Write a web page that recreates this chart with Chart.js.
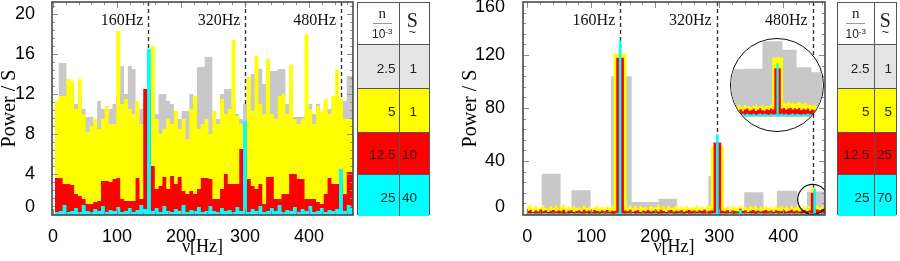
<!DOCTYPE html>
<html><head><meta charset="utf-8">
<script src="https://cdn.jsdelivr.net/npm/chart.js@4.4.1/dist/chart.umd.min.js"></script>
<style>
html,body{margin:0;padding:0;background:#fff;}
body{width:900px;height:261px;overflow:hidden;position:relative;}
canvas{position:absolute;display:block;}
#inset{position:absolute;left:730px;top:38px;width:94px;height:94px;box-sizing:border-box;border:1.5px solid #111;border-radius:50%;overflow:hidden;background:#fff;}
#inset canvas{left:0;top:0;}
.tbl{position:absolute;top:2px;height:213px;box-sizing:border-box;border:1.5px solid #555;font-family:"Liberation Sans",Arial,sans-serif;color:#222;}
.row{position:absolute;left:0;right:0;display:flex;box-sizing:border-box;}
.cell{box-sizing:border-box;height:100%;display:flex;align-items:center;justify-content:flex-end;font-size:13.5px;padding-top:3px;}
.hdr{flex-direction:column;justify-content:center;align-items:center;}
</style></head><body>
<canvas id="c1" width="360" height="261" style="left:0;top:0"></canvas>
<canvas id="c2" width="400" height="261" style="left:440px;top:0"></canvas>
<div id="inset"><canvas id="c3" width="91" height="91"></canvas></div>
<div id="t1" class="tbl"></div>
<div id="t2" class="tbl"></div>
<script>
// ---------------- DATA ----------------
// Left panel: bins of 6 Hz starting at 3 Hz
const leftStart = 3, leftBin = 6;
const leftGray = [10,15.1,15.1,13.0,12.5,11.0,12.0,10.5,9.7,9.7,
  9.2,11.3,10.5,10.0,10.5,11.0,12.0,14.8,12.0,14.8,
  14.5,10.0,10.5,11.0,12.0,12.0,10.0,12.0,12.0,11.3,
  11.0,9.5,9.5,10.3,10.3,12.0,11.0,14.7,14.7,15.7,
  15.7,9.5,9.5,12.0,12.5,12.5,11.0,10.0,9.5,11.0,
  12.0,14.0,14.5,14.5,13.0,12.0,14.3,14.3,14.5,14.5,
  11.0,12.0,9.7,9.7,9.7,10.0,11.0,10.0,11.0,10.0,
  11.0,10.5,11.0,11.0,11.3,11.3,13.8,13.8];
const leftYellow = [11.3,11.8,11.8,13.5,13.3,10.5,13.5,10.0,8.2,8.8,
  9.5,8.5,9.5,10.8,9.0,9.0,18.3,11.0,11.5,10.5,
  10.0,11.3,9.0,11.5,12.5,16.8,9.5,8.0,8.5,9.5,
  9.0,10.3,8.5,9.5,7.5,10.5,11.8,8.5,9.0,9.5,
  8.0,10.3,9.0,11.5,10.0,10.5,17.4,9.8,9.0,9.0,
  13.7,10.3,15.8,11.0,10.0,15.5,10.0,9.5,11.8,12.0,
  10.0,14.9,9.5,9.0,9.5,18.0,10.5,9.0,10.8,10.3,
  11.5,10.0,11.8,14.4,11.5,9.5,9.5,9.5];
const leftRed = [3.6,3.6,3.0,3.0,2.9,2.0,1.8,1.5,1.0,1.0,
  1.2,1.3,3.3,3.3,3.2,3.5,3.6,1.5,1.3,1.3,
  1.3,3.6,1.5,12.5,12.5,4.8,2.5,2.8,3.7,2.5,
  3.8,3.0,3.7,2.3,2.0,2.3,2.0,2.5,3.6,3.6,
  3.5,1.5,1.5,2.5,4.0,3.0,3.0,3.0,6.5,6.5,
  3.5,2.8,2.5,3.0,1.0,3.7,3.7,1.5,1.5,2.0,
  2.0,4.0,4.0,3.5,3.5,1.5,1.5,1.5,1.2,1.0,
  2.0,3.6,3.0,3.0,3.0,2.0,4.2,4.2];
const leftCyan = [0.2,0.3,0.9,0.2,0.3,0.6,0.2,0.9,0.3,0.2,
  0.5,0.3,0.8,0.2,0.4,0.3,0.7,0.2,0.3,0.6,
  0.2,0.4,0.9,0.5,16.5,0.3,0.6,0.2,0.8,0.3,
  0.2,0.5,0.3,0.9,0.2,0.4,0.3,0.7,0.2,0.3,
  0.8,0.3,0.2,0.6,0.3,0.4,0.2,0.7,0.3,9.3,
  0.2,0.5,0.3,0.8,0.2,0.3,0.6,0.3,0.9,0.2,
  0.4,0.3,0.7,0.2,0.5,0.3,0.8,0.2,0.3,0.6,
  0.2,0.4,0.3,0.5,4.5,0.3,0.9,0.6];
const leftMarkers = [149, 300.5, 450];

// Right panel: bins of 4 Hz starting at -1 Hz; gray in wide blocks
const rightStart = -1, rightBin = 4;
const rightGrayEdges = [-1,22.5,52,69,99,131,163,205,234,283,307,339,369,390,422,437,467];
const rightGray = [2,30.3,2,17.9,2.5,104,9,11.5,2.5,28.5,2.5,16.4,3,17.5,4,17];
const rightYellow = [5.5,7.0,4.2,6.1,3.8,5.0,6.8,4.5,3.6,5.9,
  4.8,6.4,3.9,5.2,7.3,4.1,5.6,3.5,6.0,4.4,
  5.1,3.7,6.6,4.6,5.3,3.9,4.9,6.2,4.0,5.4,
  3.8,5.7,4.3,6.3,
  121,121,121,121,121,
  5.0,6.5,4.2,5.8,3.9,6.1,4.7,5.5,3.6,6.0,4.9,
  5.3,7.0,4.4,5.9,3.8,6.2,4.6,5.1,6.7,4.0,
  5.6,4.3,6.0,3.7,5.2,4.8,6.4,4.1,5.5,3.9,5.8,6.3,
  51,51,51,51,51,
  4.5,5.9,3.8,6.1,4.7,5.0,6.6,4.2,5.4,3.6,5.8,4.9,6.2,
  4.0,5.5,3.9,6.0,4.6,5.2,3.7,6.4,4.8,5.6,
  4.1,5.9,3.8,6.3,4.5,5.0,6.8,4.3,5.7,4.0,6.1,
  20,20,
  6.5,4.8,5.9,4.4];
const rightRed = [2.2,3.0,1.6,2.7,1.9,3.4,2.1,2.8,1.5,2.5,
  3.1,1.8,2.6,2.0,3.3,1.7,2.4,2.9,1.6,2.3,
  2.8,1.9,3.2,2.1,2.6,1.5,3.0,2.2,1.8,2.7,
  2.0,3.1,1.7,2.4,
  2.3,118,118,118,2.6,
  2.0,3.2,1.7,2.5,2.9,1.6,2.7,2.1,3.0,1.8,2.4,
  2.8,1.9,3.3,2.2,1.6,2.6,3.0,1.8,2.5,2.1,
  2.9,1.7,2.4,3.1,2.0,2.6,1.8,2.8,2.2,3.2,1.9,2.5,
  2.7,54,54,54,2.4,
  2.1,3.0,1.7,2.6,2.3,1.9,4.0,2.2,2.8,1.6,2.5,3.0,2.0,
  2.7,1.8,2.4,3.1,2.1,2.6,1.7,2.9,2.3,2.0,
  2.8,1.9,2.5,3.2,2.0,2.7,1.8,2.4,3.0,2.2,2.6,
  16,16,
  3.4,2.9,3.6,3.1];
const rightCyan = [0.5,0.3,0.7,0.4,0.6,0.2,0.5,0.8,0.3,0.6,
  0.4,0.7,0.3,0.5,0.2,0.6,0.4,0.8,0.3,0.5,
  0.6,0.3,0.4,0.7,0.2,0.5,0.3,0.6,0.4,0.8,
  0.3,0.5,0.6,0.2,0.4,0.7,
  131,
  0.5,0.3,0.6,0.4,0.7,0.2,0.5,0.3,0.8,0.4,0.6,0.3,0.5,
  0.7,0.2,0.4,0.6,0.3,0.5,0.8,0.4,0.3,0.6,
  0.5,0.2,0.7,0.4,0.3,0.6,0.5,0.8,0.3,0.4,0.6,0.2,0.5,0.7,
  60,
  0.4,0.6,0.3,0.5,0.7,0.2,0.4,0.6,
  3.3,
  0.5,0.3,0.7,0.4,0.6,0.2,0.5,0.8,0.3,0.4,0.6,0.5,0.3,0.7,0.4,0.6,
  0.2,0.5,0.3,0.7,0.4,0.6,0.5,0.3,0.8,0.4,0.6,0.7,
  19,
  0.5,0.8,0.4,0.6];
const rightMarkers = [145.3, 296, 446];
const markerLabels = ['160Hz', '320Hz', '480Hz'];
const zoomCenter = {x: 446, y: 11};

// Inset (magnified view around 480Hz): bins of 2 Hz starting at 405 Hz
const insetStart = 405, insetBin = 2;
const insetGrayEdges = [405,417.5,434,452.5,465.5,479.3,489];
const insetGray = [16,16.2,25.5,22.6,16.7,15];
const insetYellow = [3.2,3.6,3.0,3.9,3.4,3.1,3.8,3.5,3.3,3.0,3.6,3.9,3.2,3.4,3.7,3.1,3.5,3.3,3.8,
  20,20,20,20,20,
  4.6,4.2,4.8,4.4,4.7,4.1,4.5,4.8,4.3,4.0,4.6,3.6,3.9,3.4,3.8,3.2,3.6,3.3];
const insetRed = [2.2,1.8,2.5,2.0,2.4,1.7,2.3,2.6,1.9,2.1,2.5,1.8,2.2,2.7,2.0,1.9,2.4,2.1,2.6,2.3,
  16.3,16.3,16.3,
  2.5,2.8,2.2,2.6,2.9,2.3,2.7,2.4,2.8,2.1,2.5,2.2,2.6,1.9,2.3,2.0,2.4,1.8,2.2];
const insetCyan = [0.8,0.6,0.9,0.7,0.5,0.8,0.6,0.9,0.7,0.6,0.8,0.5,0.7,0.9,0.6,0.8,0.7,0.5,0.8,0.6,0.7,
  18,
  0.7,0.9,0.6,0.8,0.5,0.7,0.9,0.6,0.8,0.7,0.5,0.8,0.6,0.9,0.7,0.6,0.8,0.5,0.7,0.6];

// Legend tables
const legendN = ['2.5', '5', '12.5', '25'];
const legendSLeft = ['1', '1', '10', '40'];
const legendSRight = ['1', '5', '25', '70'];

// ---------------- STYLE ----------------
const COL = {gray: '#c8c8c8', yellow: '#ffff00', red: '#ff0000', cyan: '#00ffff'};
const rowColors = ['#e4e4e4', '#ffff00', '#ff0000', '#00ffff'];
const SANS = '"Liberation Sans", Arial, sans-serif';
const SERIF = '"Liberation Serif", "Times New Roman", serif';

function gridSteps(start, w, vals) {
  const pts = vals.map((v, i) => ({x: start + i * w, y: v}));
  pts.push({x: start + vals.length * w, y: vals[vals.length - 1]});
  return pts;
}
function edgeSteps(edges, vals) {
  const pts = vals.map((v, i) => ({x: edges[i], y: v}));
  pts.push({x: edges[edges.length - 1], y: vals[vals.length - 1]});
  return pts;
}
function ds(data, color, fill) {
  return {data, stepped: true, fill: fill || 'start', backgroundColor: color,
    borderColor: 'rgba(0,0,0,0)', borderWidth: 0, pointRadius: 0, pointHoverRadius: 0, tension: 0};
}

const decor = {
  id: 'decor',
  beforeDraw(chart, args, o) {
    if (!o.labelShift) return;
    try {
      const items = chart.scales.y.getLabelItems();
      items.forEach(it => {
        const d = o.labelShift[it.label];
        if (d) it.options.translation[1] += d;
      });
    } catch (e) {}
  },
  beforeDatasetsDraw(chart, args, o) {
    if (!o.lines) return;
    const {ctx, chartArea: a} = chart; const x = chart.scales.x;
    ctx.save();
    ctx.strokeStyle = '#333'; ctx.lineWidth = 1.4; ctx.setLineDash([4, 3]);
    o.lines.forEach(v => {
      const px = Math.round(x.getPixelForValue(v)) + 0.5;
      ctx.beginPath(); ctx.moveTo(px, a.top); ctx.lineTo(px, a.bottom); ctx.stroke();
    });
    ctx.restore();
  },
  afterDatasetsDraw(chart, args, o) {
    const {ctx, chartArea: a} = chart; const x = chart.scales.x, y = chart.scales.y;
    ctx.save();
    if (o.lines) {
      ctx.font = '16px ' + SERIF; ctx.fillStyle = '#111';
      ctx.textAlign = 'right'; ctx.textBaseline = 'middle';
      o.lines.forEach((v, i) => ctx.fillText(o.labels[i], x.getPixelForValue(v) - 5, a.top + 19));
    }
    if (o.circle) {
      ctx.beginPath(); ctx.rect(a.left, a.top, a.width, a.height); ctx.clip();
      ctx.strokeStyle = '#111'; ctx.lineWidth = 1.2;
      ctx.beginPath();
      ctx.arc(x.getPixelForValue(o.circle.x), y.getPixelForValue(o.circle.y), 15, 0, Math.PI * 2);
      ctx.stroke();
    }
    ctx.restore();
  },
  afterDraw(chart, args, o) {
    if (!o.frame) return;
    const {ctx, chartArea: a} = chart; const x = chart.scales.x, y = chart.scales.y;
    ctx.save();
    ctx.strokeStyle = '#8c8c8c'; ctx.lineWidth = 1;
    const seg = (x1, y1, x2, y2) => { ctx.beginPath(); ctx.moveTo(x1, y1); ctx.lineTo(x2, y2); ctx.stroke(); };
    for (let k = 0; k < 200; k++) {
      const v = k * o.yMinor; if (v > y.max) break;
      const p = Math.round(y.getPixelForValue(v)) + 0.5;
      if (p < a.top + 1 || p > a.bottom - 1) continue;
      const L = (k % 5 === 0) ? 6 : 3;
      seg(a.left, p, a.left + L, p); seg(a.right, p, a.right - L, p);
    }
    for (let k = 0; k < 200; k++) {
      const v = k * o.xMinor; if (v > x.max) break;
      const p = Math.round(x.getPixelForValue(v)) + 0.5;
      if (p < a.left + 1 || p > a.right - 1) continue;
      const L = (k % 5 === 0) ? 6 : 3;
      seg(p, a.top, p, a.top + L); seg(p, a.bottom, p, a.bottom - L);
    }
    ctx.strokeStyle = '#4a4a4a'; ctx.lineWidth = 1.6;
    ctx.strokeRect(a.left, a.top, a.width, a.height);
    ctx.restore();
  }
};

function panel(canvasId, cfg) {
  return new Chart(document.getElementById(canvasId), {
    type: 'line',
    data: {datasets: cfg.datasets},
    plugins: [decor],
    options: {
      responsive: false, animation: false, devicePixelRatio: 1, events: [],
      layout: {padding: cfg.padding},
      plugins: {legend: {display: false}, tooltip: {enabled: false},
        decor: cfg.decor},
      scales: {
        x: {type: 'linear', min: cfg.xMin, max: cfg.xMax,
          afterBuildTicks: s => { s.ticks = cfg.xTicks.map(v => ({value: v})); },
          afterFit: s => { s.height = 46; s.paddingLeft = 0; s.paddingRight = 0; },
          grid: {display: false}, border: {display: false},
          ticks: {font: {family: SANS, size: 18}, color: '#000', padding: 3, maxRotation: 0, autoSkip: false},
          title: {display: true, text: 'ν[Hz]', color: '#000', font: {family: SERIF, size: 18, lineHeight: 1.2}, padding: {top: 0, bottom: 3}}
        },
        y: {type: 'linear', min: cfg.yMin, max: cfg.yMax,
          afterBuildTicks: s => { s.ticks = cfg.yTicks.map(v => ({value: v})); },
          afterFit: s => { s.width = cfg.yWidth; s.paddingTop = 0; s.paddingBottom = 0; },
          grid: {display: false}, border: {display: false},
          ticks: {font: {family: SANS, size: 18}, color: '#000', padding: cfg.yPad, autoSkip: false},
          title: {display: true, text: 'Power / S', color: '#000', font: {family: SERIF, size: 20, lineHeight: 1}, padding: {top: cfg.yTitlePad, bottom: 0}}
        }
      }
    }
  });
}

panel('c1', {
  datasets: [
    ds(gridSteps(leftStart, leftBin, leftCyan), COL.cyan),
    ds(gridSteps(leftStart, leftBin, leftRed), COL.red),
    ds(gridSteps(leftStart, leftBin, leftYellow), COL.yellow),
    ds(gridSteps(leftStart, leftBin, leftGray), COL.gray)
  ],
  padding: {left: 0, right: 7, top: 2, bottom: 0},
  xMin: -1.56, xMax: 468.75, xTicks: [0, 100, 200, 300, 400],
  yMin: -0.1, yMax: 21.2, yTicks: [0, 4, 8, 12, 16, 20],
  yWidth: 52, yPad: 9, yTitlePad: 0,
  decor: {lines: leftMarkers, labels: markerLabels, frame: true, yMinor: 0.8, xMinor: 20, labelShift: {'0': -7}}
});

panel('c2', {
  datasets: [
    ds(gridSteps(rightStart, rightBin, rightCyan), COL.cyan),
    ds(gridSteps(rightStart, rightBin, rightRed), COL.red),
    ds(gridSteps(rightStart, rightBin, rightYellow), COL.yellow),
    ds(edgeSteps(rightGrayEdges, rightGray), COL.gray)
  ],
  padding: {left: 0, right: 15, top: 2, bottom: 0},
  xMin: -6.7, xMax: 465.2, xTicks: [0, 100, 200, 300, 400],
  yMin: -0.75, yMax: 160, yTicks: [0, 40, 80, 120, 160],
  yWidth: 83, yPad: 10, yTitlePad: 21,
  decor: {lines: rightMarkers, labels: markerLabels, frame: true, yMinor: 8, xMinor: 20,
    circle: zoomCenter, labelShift: {'0': -7, '160': 5}}
});

new Chart(document.getElementById('c3'), {
  type: 'line',
  data: {datasets: [
    ds(gridSteps(insetStart, insetBin, insetCyan), COL.cyan, 'origin'),
    ds(gridSteps(insetStart, insetBin, insetRed), COL.red, 'origin'),
    ds(gridSteps(insetStart, insetBin, insetYellow), COL.yellow, 'origin'),
    ds(edgeSteps(insetGrayEdges, insetGray), COL.gray, 'origin')
  ]},
  options: {
    responsive: false, animation: false, devicePixelRatio: 1, events: [],
    layout: {padding: 0},
    plugins: {legend: {display: false}, tooltip: {enabled: false}},
    scales: {
      x: {type: 'linear', display: false, min: 405, max: 489},
      y: {type: 'linear', display: false, min: -4.7, max: 26.3}
    }
  }
});

// ---------------- LEGEND TABLES ----------------
function makeTable(id, left, colW, sVals, pads) {
  const el = document.getElementById(id);
  el.style.left = left + 'px';
  el.style.width = (colW[0] + colW[1]) + 'px';
  const rowH = [41, 44, 43.5, 42.5, 42];
  let top = 0;
  const hdr = document.createElement('div');
  hdr.className = 'row'; hdr.style.top = '0px'; hdr.style.height = rowH[0] + 'px';
  hdr.innerHTML =
    '<div class="cell hdr" style="width:' + colW[0] + 'px;border-right:1px solid #555;padding:0 0 0 ' + pads[2] + 'px">' +
      '<div style="font:15px ' + SERIF.replace(/"/g, "'") + ';line-height:13px;color:#222">n</div>' +
      '<div style="width:19px;border-top:1px solid #999;margin:3px 0 2px"></div>' +
      '<div style="font:12px ' + SANS.replace(/"/g, "'") + ';line-height:12px;color:#222">10<sup style="font-size:8px;vertical-align:4px">-3</sup></div>' +
    '</div>' +
    '<div class="cell hdr" style="flex:1;padding:0 ' + pads[3] + 'px 0 0">' +
      '<div style="font:20px ' + SERIF.replace(/"/g, "'") + ';line-height:16px;color:#222">S</div>' +
      '<div style="font:13px ' + SANS.replace(/"/g, "'") + ';line-height:8px;color:#222">~</div>' +
    '</div>';
  el.appendChild(hdr);
  top = rowH[0];
  for (let i = 0; i < legendN.length; i++) {
    const r = document.createElement('div');
    r.className = 'row';
    r.style.top = top + 'px'; r.style.height = rowH[i + 1] + 'px';
    r.style.background = rowColors[i];
    r.style.borderTop = '1px solid #555';
    r.innerHTML =
      '<div class="cell" style="width:' + colW[0] + 'px;border-right:1px solid #555;padding-right:' + pads[0] + 'px">' + legendN[i] + '</div>' +
      '<div class="cell" style="flex:1;padding-right:' + pads[1] + 'px">' + sVals[i] + '</div>';
    el.appendChild(r);
    top += rowH[i + 1];
  }
}
makeTable('t1', 357, [41.5, 31.5], legendSLeft, [3, 12, 8, 4]);
makeTable('t2', 837, [36.5, 23.5], legendSRight, [4, 4, 0, 0]);
</script>
</body></html>
